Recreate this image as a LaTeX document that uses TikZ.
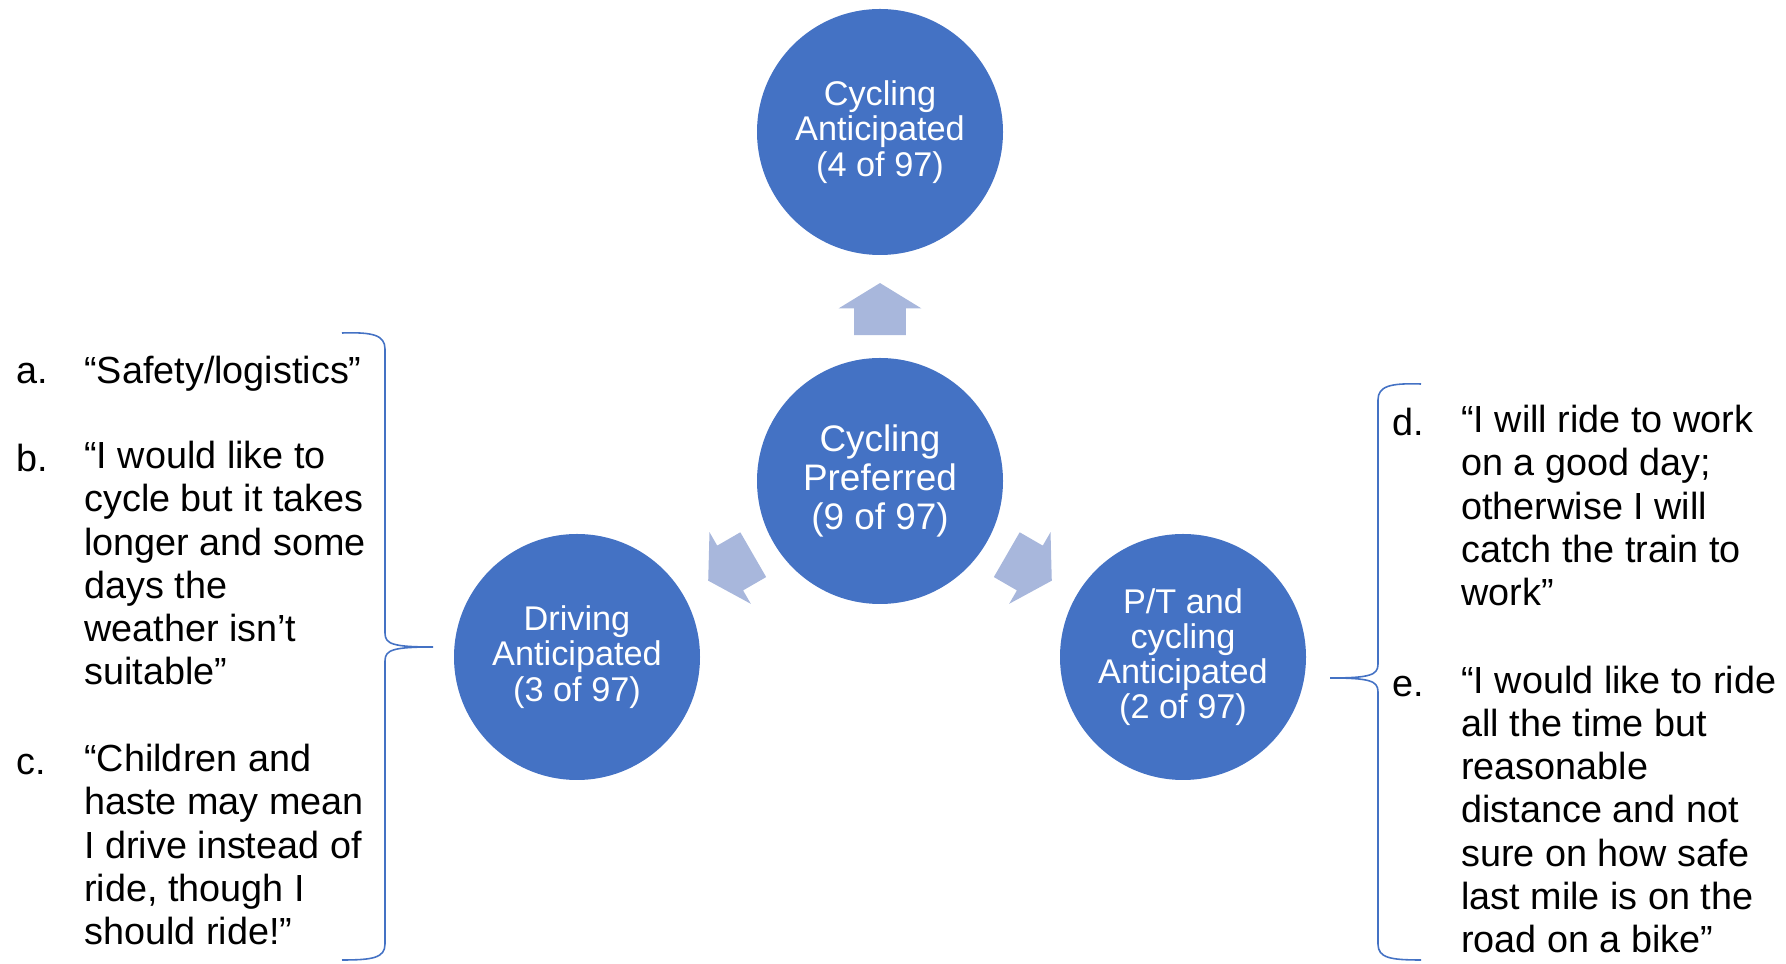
\documentclass[tikz,border=0pt]{standalone}
\usepackage{fontspec}
\setmainfont{Liberation Sans}
\usepackage{xcolor}
\usepackage{tikz}
\usetikzlibrary{shapes.arrows, positioning, calc}
\definecolor{ModeBlue}{RGB}{68,114,196}
\definecolor{ArrowBlue}{RGB}{168,183,220}
\tikzset{
    modecircle/.style={circle, fill=ModeBlue, text=white, minimum size=4.92cm, inner sep=0pt,
        align=center, font=\fontsize{19.5}{20}\selectfont,
        execute at begin node={\rule{0pt}{0.95em}}},
    modearrow/.style={single arrow, fill=ArrowBlue, inner sep=0pt, text height=1.02cm, text depth=0pt,
        minimum width=1.64cm, minimum height=1.04cm, single arrow head extend=0.31cm,
        single arrow tip angle=117},
    quotelabel/.style={anchor=north west, inner sep=0pt, font=\fontsize{21.5}{24.6}\selectfont,
        execute at begin node=\strut},
    quotetext/.style={anchor=north west, inner sep=0pt, align=left, font=\fontsize{21.5}{24.6}\selectfont,
        execute at begin node=\strut},
    bracket/.style={draw=ModeBlue, line width=0.9pt},
}

\begin{document}
\begin{tikzpicture}
    \useasboundingbox (0,0) rectangle (35.72,19.28);

    % Mode circles
    \node[modecircle, font=\fontsize{21}{22.4}\selectfont] (pref) at (17.60,9.66) {Cycling\\Preferred\\(9 of 97)};
    \node[modecircle] (cyc) at (17.60,16.64) {Cycling\\Anticipated\\(4 of 97)};
    \node[modecircle] (drv) at (11.54,6.14) {Driving\\Anticipated\\(3 of 97)};
    \node[modecircle] (ptc) at (23.66,6.14) {P/T and\\cycling\\Anticipated\\(2 of 97)};

    % Block arrows between the circles
    \node[modearrow, rotate=90] (acyc) at ($(pref)!0.47!(cyc)$) {};
    \node[modearrow, rotate=210] (adrv) at ($(pref)!0.47!(drv)$) {};
    \node[modearrow, rotate=-30] (aptc) at ($(pref)!0.47!(ptc)$) {};

    % Quotes on the left
    \node[quotelabel] (la) at (0.32,12.22) {a.};
    \node[quotetext] (qa) at (1.68,12.22) {“Safety/logistics”};
    \node[quotelabel] (lb) at (0.32,10.46) {b.};
    \node[quotetext] (qb) at (1.68,10.46) {“I would like to\\cycle but it takes\\longer and some\\days the\\weather isn't\\suitable”};
    \node[quotelabel] (lc) at (0.32,4.40) {c.};
    \node[quotetext] (qc) at (1.68,4.40) {“Children and\\haste may mean\\I drive instead of\\ride, though I\\should ride!”};

    % Quotes on the right
    \node[quotelabel] (ld) at (27.84,11.18) {d.};
    \node[quotetext] (qd) at (29.22,11.18) {“I will ride to work\\on a good day;\\otherwise I will\\catch the train to\\work”};
    \node[quotelabel] (le) at (27.84,5.97) {e.};
    \node[quotetext] (qe) at (29.22,5.97) {“I would like to ride\\all the time but\\reasonable\\distance and not\\sure on how safe\\last mile is on the\\road on a bike”};

    % Braces
    \draw[bracket] (6.84,12.62) .. controls (7.45,12.64) and (7.70,12.58) .. (7.70,12.30) -- (7.70,6.62)
        .. controls (7.70,6.40) and (7.85,6.34) .. (8.66,6.34)
        .. controls (7.85,6.34) and (7.70,6.28) .. (7.70,6.06) -- (7.70,0.40)
        .. controls (7.70,0.12) and (7.45,0.08) .. (6.84,0.08);
    \draw[bracket] (28.42,11.60) .. controls (27.81,11.62) and (27.56,11.56) .. (27.56,11.28) -- (27.56,6.00)
        .. controls (27.56,5.78) and (27.41,5.72) .. (26.60,5.72)
        .. controls (27.41,5.72) and (27.56,5.66) .. (27.56,5.44) -- (27.56,0.40)
        .. controls (27.56,0.12) and (27.81,0.08) .. (28.42,0.08);
\end{tikzpicture}
\end{document}
